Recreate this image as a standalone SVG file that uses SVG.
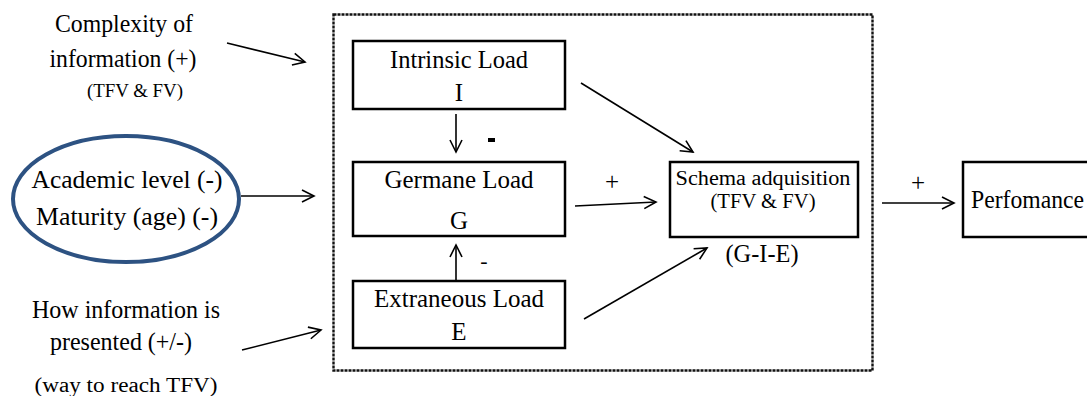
<svg xmlns="http://www.w3.org/2000/svg" width="1087" height="396" viewBox="0 0 1087 396" font-family="'Liberation Serif', 'Times New Roman', Times, serif">
<defs>
<marker id="ah" markerUnits="userSpaceOnUse" markerWidth="16" markerHeight="16" refX="13" refY="7" orient="auto" viewBox="0 0 16 14">
<path d="M1,1 L13,7 L1,13" fill="none" stroke="#000" stroke-width="1.6"/>
</marker>
<style>
.t{font-size:25px;text-anchor:middle;fill:#000;}
.s{font-size:19px;text-anchor:middle;fill:#000;}
.box{fill:#fff;stroke:#000;stroke-width:2.5;}
.c{stroke:#000;stroke-width:1.6;fill:none;marker-end:url(#ah);}
</style>
</defs>
<rect x="0" y="0" width="1087" height="396" fill="#fff"/>
<rect id="container" x="333.5" y="14.5" width="539" height="356" fill="none" stroke="#111" stroke-width="2.4" stroke-dasharray="3 1"/>

<g id="complexity">
<text class="t" x="124" y="32" textLength="138" lengthAdjust="spacingAndGlyphs">Complexity of</text>
<text class="t" x="123" y="67" textLength="147" lengthAdjust="spacingAndGlyphs">information (+)</text>
<text class="s" x="135" y="97" textLength="96" lengthAdjust="spacingAndGlyphs">(TFV &amp; FV)</text>
</g>

<g id="academic">
<ellipse cx="126" cy="199" rx="113" ry="63" fill="none" stroke="#2d5282" stroke-width="4"/>
<text class="t" x="127" y="188" textLength="191" lengthAdjust="spacingAndGlyphs">Academic level  (-)</text>
<text class="t" x="127" y="225" textLength="182" lengthAdjust="spacingAndGlyphs">Maturity (age)  (-)</text>
</g>

<g id="presented">
<text class="t" x="126" y="318" textLength="188" lengthAdjust="spacingAndGlyphs">How information is</text>
<text class="t" x="121" y="350" textLength="142" lengthAdjust="spacingAndGlyphs">presented  (+/-)</text>
<text class="s" x="126" y="392" style="font-size:20px" textLength="183" lengthAdjust="spacingAndGlyphs">(way to reach TFV)</text>
</g>

<g id="intrinsic">
<rect class="box" x="353" y="41" width="212" height="68"/>
<text class="t" x="459" y="68" textLength="138" lengthAdjust="spacingAndGlyphs">Intrinsic Load</text>
<text class="t" x="459" y="101">I</text>
</g>

<g id="germane">
<rect class="box" x="353" y="162" width="212" height="74"/>
<text class="t" x="459" y="188" textLength="149" lengthAdjust="spacingAndGlyphs">Germane Load</text>
<text class="t" x="459" y="229">G</text>
</g>

<g id="extraneous">
<rect class="box" x="353" y="281" width="212" height="67"/>
<text class="t" x="459" y="307" textLength="170" lengthAdjust="spacingAndGlyphs">Extraneous Load</text>
<text class="t" x="459" y="340">E</text>
</g>

<g id="schema">
<rect class="box" x="670" y="162" width="188" height="75"/>
<text class="t" x="763" y="185" style="font-size:20px" textLength="175" lengthAdjust="spacingAndGlyphs">Schema adquisition</text>
<text class="t" x="763" y="208" style="font-size:20px" textLength="105" lengthAdjust="spacingAndGlyphs">(TFV &amp; FV)</text>
<text class="t" x="762" y="262" textLength="73" lengthAdjust="spacingAndGlyphs">(G-I-E)</text>
</g>

<g id="performance">
<rect class="box" x="963" y="162" width="140" height="75"/>
<text x="971" y="208" font-size="25" textLength="113" lengthAdjust="spacingAndGlyphs">Perfomance</text>
</g>

<g id="connectors">
<line class="c" x1="227" y1="43" x2="305" y2="62"/>
<line class="c" x1="241" y1="196" x2="314" y2="196"/>
<line class="c" x1="242" y1="350" x2="321" y2="330"/>
<line class="c" x1="456" y1="114" x2="456" y2="152"/>
<line class="c" x1="456" y1="281" x2="456" y2="245"/>
<line class="c" x1="575" y1="206" x2="656" y2="202"/>
<line class="c" x1="581" y1="83" x2="693" y2="152"/>
<line class="c" x1="584" y1="319" x2="707" y2="248"/>
<line class="c" x1="882" y1="203" x2="954" y2="203"/>
<text x="612" y="190" font-size="25" text-anchor="middle">+</text>
<text x="918" y="191" font-size="25" text-anchor="middle">+</text>
<rect x="488" y="138" width="7" height="4" fill="#000"/>
<text x="484" y="268" font-size="22" text-anchor="middle">-</text>
</g>
</svg>
